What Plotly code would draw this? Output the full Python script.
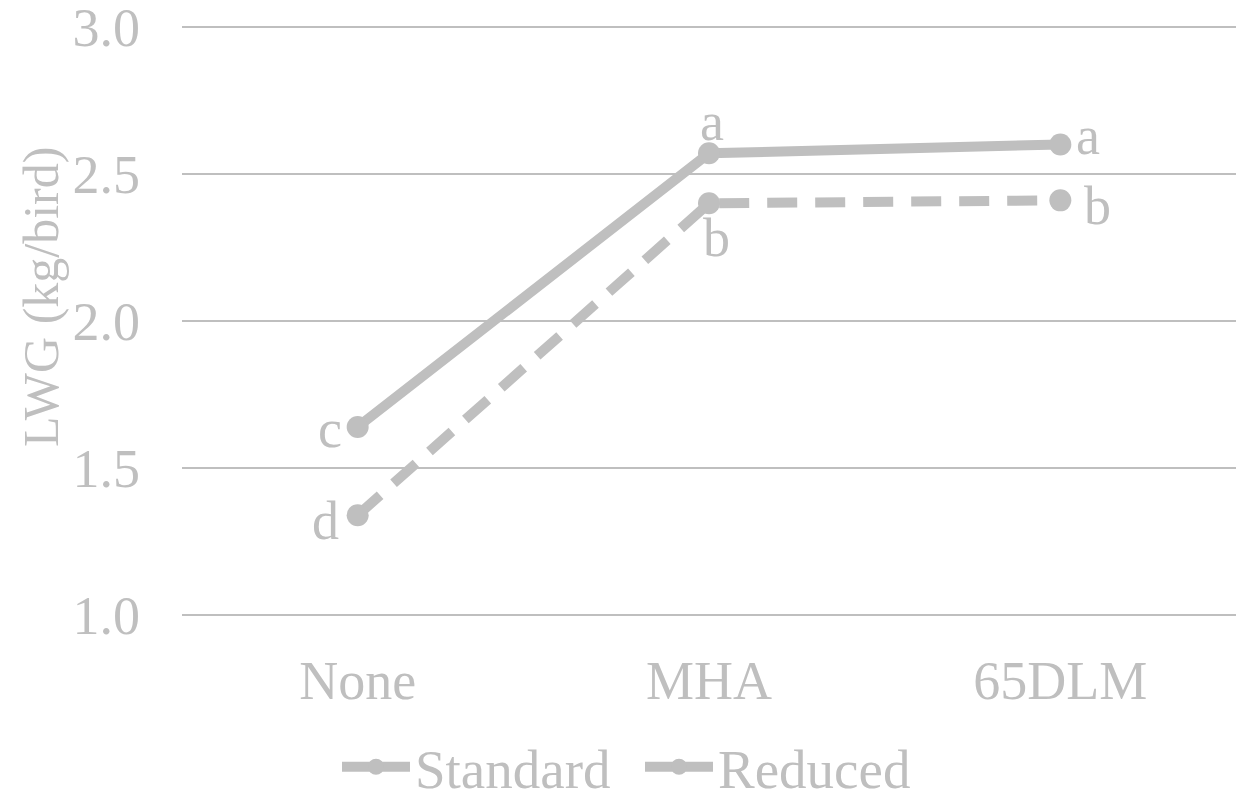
import plotly.graph_objects as go

categories = ["None", "MHA", "65DLM"]
standard = [1.64, 2.57, 2.60]
reduced = [1.34, 2.40, 2.41]
standard_letters = ["c", "a", "a"]
reduced_letters = ["d", "b", "b"]
y_ticks = [1.0, 1.5, 2.0, 2.5, 3.0]

GREY = "#BFBFBF"
FONT = "Liberation Serif, Times New Roman, serif"
FS = 54

fig = go.Figure()
fig.add_trace(go.Scatter(
    x=categories, y=standard, name="Standard", mode="lines+markers",
    line=dict(color=GREY, width=10),
    marker=dict(color=GREY, size=22),
    showlegend=False,
))
fig.add_trace(go.Scatter(
    x=categories, y=reduced, name="Reduced", mode="lines+markers",
    line=dict(color=GREY, width=10, dash="30px,18px"),
    marker=dict(color=GREY, size=22),
    showlegend=False,
))
# legend keys: solid line with a dot for both series
for name in ["Standard", "Reduced"]:
    fig.add_trace(go.Scatter(
        x=[None], y=[None], name=name, mode="lines+markers",
        line=dict(color=GREY, width=10),
        marker=dict(color=GREY, size=22),
    ))

# significance letters beside each point (pixel offsets from the marker)
std_offsets = [(-28, -2), (3, 31), (28, 8)]
red_offsets = [(-32, -6), (7, -35), (37, -6)]
for cat, val, lab, (dx, dy) in zip(categories, standard, standard_letters, std_offsets):
    fig.add_annotation(x=cat, y=val, text=lab, showarrow=False,
                       xshift=dx, yshift=dy, font=dict(size=FS, color=GREY, family=FONT))
for cat, val, lab, (dx, dy) in zip(categories, reduced, reduced_letters, red_offsets):
    fig.add_annotation(x=cat, y=val, text=lab, showarrow=False,
                       xshift=dx, yshift=dy, font=dict(size=FS, color=GREY, family=FONT))

# y-axis title
fig.add_annotation(xref="paper", yref="paper", x=(41 - 182) / 1054, y=(617 - 297) / 592,
                   xanchor="center", yanchor="middle",
                   text="LWG (kg/bird)", textangle=-90, showarrow=False,
                   font=dict(size=50, color=GREY, family=FONT))

fig.update_layout(
    width=1236, height=795,
    margin=dict(l=182, r=0, t=25, b=178, autoexpand=False),
    paper_bgcolor="white", plot_bgcolor="white",
    font=dict(family=FONT, size=FS, color=GREY),
    showlegend=True,
    legend=dict(orientation="h", x=(337 - 182) / 1054, xanchor="left",
                y=(617 - 767) / 592, yanchor="middle",
                font=dict(size=55, color=GREY, family=FONT), itemwidth=68,
                entrywidth=220, entrywidthmode="pixels",
                itemsizing="trace", traceorder="normal"),
)
fig.update_xaxes(range=[-0.5, 2.5], showgrid=False, showline=False, zeroline=False,
                 ticks="", ticklabelstandoff=27,
                 tickfont=dict(size=FS, color=GREY, family=FONT))
fig.update_yaxes(range=[0.994, 3.006], tickvals=y_ticks, ticktext=[f"{v:.1f}" for v in y_ticks],
                 showgrid=True, gridcolor=GREY, gridwidth=2, zeroline=False,
                 showline=False, ticks="", ticklabelstandoff=41, ticklabeloverflow="allow",
                 tickfont=dict(size=FS, color=GREY, family=FONT))

fig.write_html("out.html")
